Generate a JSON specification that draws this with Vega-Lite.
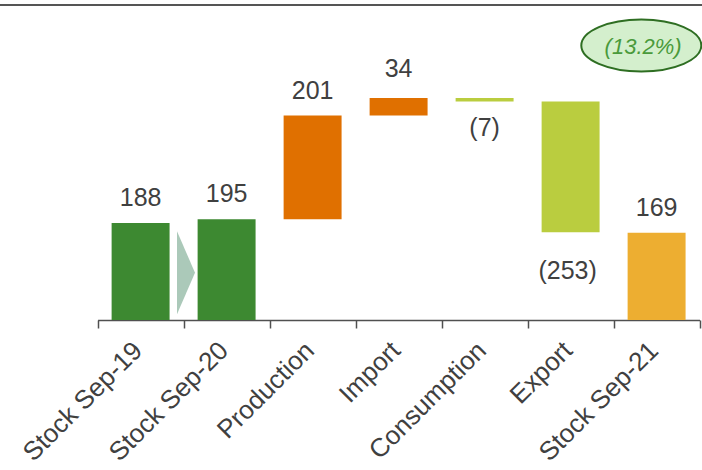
{
  "$schema": "https://vega.github.io/schema/vega-lite/v6.json",
  "width": 702,
  "height": 315,
  "padding": {"top": 5, "left": 0, "right": 0, "bottom": 150},
  "autosize": {"type": "none"},
  "background": "white",
  "config": {"view": {"stroke": null}, "font": "Liberation Sans"},
  "data": {
    "values": [
      {"category": "Stock Sep-19", "start": 0, "end": 188, "label": "188", "kind": "stock"},
      {"category": "Stock Sep-20", "start": 0, "end": 195, "label": "195", "kind": "stock"},
      {"category": "Production", "start": 195, "end": 396, "label": "201", "kind": "increase"},
      {"category": "Import", "start": 396, "end": 430, "label": "34", "kind": "increase"},
      {"category": "Consumption", "start": 430, "end": 423, "label": "(7)", "kind": "decrease"},
      {"category": "Export", "start": 423, "end": 170, "label": "(253)", "kind": "decrease"},
      {"category": "Stock Sep-21", "start": 0, "end": 169, "label": "169", "kind": "final"}
    ]
  },
  "layer": [
    {
      "data": {"values": [{"edge": "top"}]},
      "mark": {"type": "rule", "color": "#555555", "strokeWidth": 2},
      "encoding": {
        "y": {"datum": 610, "type": "quantitative", "scale": {"domain": [0, 610], "nice": false}, "axis": null}
      }
    },
    {
      "mark": {"type": "bar", "width": {"band": 0.674}},
      "encoding": {
        "x": {
          "field": "category",
          "type": "nominal",
          "sort": null,
          "scale": {"type": "band", "range": [97.6, 699.6], "paddingInner": 0, "paddingOuter": 0},
          "axis": {
            "title": null,
            "labelAngle": -45,
            "labelFontSize": 26,
            "labelColor": "#404040",
            "labelFont": "Liberation Sans",
            "labelAlign": "right",
            "labelBaseline": "middle",
            "labelPadding": 18,
            "labelOffset": -3,
            "labelLimit": 0,
            "tickBand": "extent",
            "domainColor": "#505050",
            "tickColor": "#505050",
            "domainWidth": 1.5,
            "tickWidth": 1.5,
            "tickSize": 8
          }
        },
        "y": {"field": "start", "type": "quantitative", "scale": {"domain": [0, 610], "nice": false}, "axis": null},
        "y2": {"field": "end"},
        "color": {
          "field": "kind",
          "type": "nominal",
          "scale": {
            "domain": ["stock", "increase", "decrease", "final"],
            "range": ["#3d8931", "#e07000", "#bacd3f", "#edae31"]
          },
          "legend": null
        }
      }
    },
    {
      "data": {"values": [{"from": "Stock Sep-19", "to": "Stock Sep-20"}]},
      "mark": {
        "type": "point",
        "shape": "M -1 -4.61 L 1 0 L -1 4.61 Z",
        "size": 324,
        "filled": true,
        "color": "#abc9b9",
        "opacity": 1,
        "xOffset": 45.4
      },
      "encoding": {
        "x": {"field": "from", "type": "nominal", "sort": null},
        "y": {"datum": 91.6, "type": "quantitative"}
      }
    },
    {
      "transform": [{"filter": "datum.end >= datum.start && datum.category !== 'Import'"}],
      "mark": {"type": "text", "fontSize": 25, "color": "#404040", "baseline": "alphabetic", "dy": -17},
      "encoding": {
        "x": {"field": "category", "type": "nominal", "sort": null},
        "y": {"field": "end", "type": "quantitative"},
        "text": {"field": "label"}
      }
    },
    {
      "transform": [{"filter": "datum.category === 'Import'"}],
      "mark": {"type": "text", "fontSize": 25, "color": "#404040", "baseline": "alphabetic", "dy": -21},
      "encoding": {
        "x": {"field": "category", "type": "nominal", "sort": null},
        "y": {"field": "end", "type": "quantitative"},
        "text": {"field": "label"}
      }
    },
    {
      "transform": [{"filter": "datum.category === 'Consumption'"}],
      "mark": {"type": "text", "fontSize": 25, "color": "#404040", "baseline": "alphabetic", "dy": 34},
      "encoding": {
        "x": {"field": "category", "type": "nominal", "sort": null},
        "y": {"field": "end", "type": "quantitative"},
        "text": {"field": "label"}
      }
    },
    {
      "transform": [{"filter": "datum.category === 'Export'"}],
      "mark": {"type": "text", "fontSize": 25, "color": "#404040", "baseline": "alphabetic", "dy": 47, "dx": -3},
      "encoding": {
        "x": {"field": "category", "type": "nominal", "sort": null},
        "y": {"field": "end", "type": "quantitative"},
        "text": {"field": "label"}
      }
    },
    {
      "data": {"values": [{"category": "Stock Sep-21", "note": "(13.2%)"}]},
      "layer": [
        {
          "mark": {
            "type": "point",
            "shape": "M -1 0 A 1 0.433 0 1 1 1 0 A 1 0.433 0 1 1 -1 0 Z",
            "size": 14400,
            "filled": true,
            "fill": "#d4efcd",
            "stroke": "#2e6e22",
            "strokeWidth": 2,
            "opacity": 1,
            "xOffset": -15.3
          },
          "encoding": {
            "x": {"field": "category", "type": "nominal", "sort": null},
            "y": {"datum": 531.6, "type": "quantitative"}
          }
        },
        {
          "mark": {
            "type": "text",
            "fontSize": 22,
            "fontStyle": "italic",
            "color": "#4a9a3b",
            "baseline": "middle",
            "xOffset": -13.5,
            "dy": 2
          },
          "encoding": {
            "x": {"field": "category", "type": "nominal", "sort": null},
            "y": {"datum": 531.6, "type": "quantitative"},
            "text": {"field": "note"}
          }
        }
      ]
    }
  ]
}
